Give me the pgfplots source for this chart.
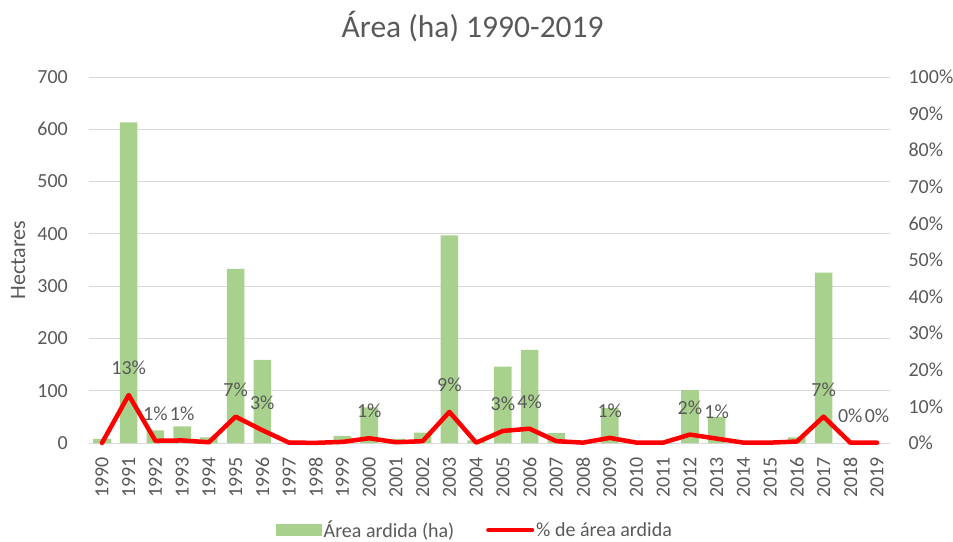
\documentclass[border=0pt]{standalone}
\usepackage{fontspec}
\setmainfont{Carlito}
\usepackage{pgfplots}
\usepackage{pgfplotstable}
\pgfplotsset{compat=1.18}
\definecolor{txt}{HTML}{595959}
\definecolor{grd}{HTML}{D9D9D9}
\definecolor{barg}{HTML}{A9D18E}
\definecolor{redl}{HTML}{FF0000}
\newcommand{\fs}{\fontsize{20}{24}\selectfont}

\pgfplotstableread{
x ha pct
0 8 0
1 613 13.1
2 24 0.6
3 32 0.7
4 11 0.2
5 333 7.2
6 159 3.5
7 0 0.1
8 0 0.05
9 13 0.3
10 68 1.3
11 8 0.2
12 20 0.5
13 397 8.5
14 5 0.1
15 146 3.3
16 178 3.9
17 19 0.5
18 0 0.1
19 67 1.4
20 0 0.1
21 0 0.1
22 101 2.3
23 50 1.2
24 0 0.1
25 0 0.1
26 11 0.4
27 326 7.2
28 0 0.1
29 0 0.1
}\datatable

\begin{document}
\begin{tikzpicture}
\begin{axis}[
  name=main,
  scale only axis, width=801.8pt, height=366pt,
  at={(0,0)}, anchor=south west,
  xmin=-0.5, xmax=29.5, ymin=0, ymax=700,
  axis line style={draw=none},
  major tick length=0pt,
  ytick={0,100,...,700},
  yticklabels={0,100,200,300,400,500,600,700},
  xtick={0,...,29},
  xticklabels={1990,1991,1992,1993,1994,1995,1996,1997,1998,1999,2000,2001,2002,2003,2004,2005,2006,2007,2008,2009,2010,2011,2012,2013,2014,2015,2016,2017,2018,2019},
  ymajorgrids, grid style={grd, line width=1pt},
  yticklabel style={font=\fs, text=txt, anchor=east, inner sep=0pt, xshift=-20.6pt},
  xticklabel style={font=\fs, text=txt, rotate=90, anchor=east, inner sep=0pt, xshift=-14pt},
  ylabel={Hectares},
  ylabel style={font=\fontsize{22}{26}\selectfont, text=txt, at={(axis description cs:-0.088,0.5)}, anchor=center},
  title={Área (ha) 1990-2019},
  title style={font=\fontsize{31.5}{36}\selectfont, text=txt, at={(axis description cs:0.479,1)}, anchor=base, yshift=33.7pt, inner sep=0pt},
]
\addplot[ybar, bar width=17.6pt, fill=barg, draw=none] table[x=x, y=ha] {\datatable};
\end{axis}
\begin{axis}[
  scale only axis, width=801.8pt, height=366pt,
  at={(0,0)}, anchor=south west,
  xmin=-0.5, xmax=29.5, ymin=0, ymax=100,
  axis line style={draw=none},
  major tick length=0pt,
  xtick=\empty,
  axis y line*=right,
  ytick={0,10,...,100},
  yticklabels={0\%,10\%,20\%,30\%,40\%,50\%,60\%,70\%,80\%,90\%,100\%},
  yticklabel style={font=\fs, text=txt, anchor=west, inner sep=0pt, xshift=18pt},
  clip=false,
  legend columns=2,
  legend style={draw=none, fill=none, font=\fs, text=txt,
    at={(axis description cs:0.482,-0.238)}, anchor=center,
    /tikz/every even column/.append style={column sep=30pt},
    inner sep=0pt},
  legend cell align=left,
]
\addlegendimage{legend image code/.code={\fill[barg] (0pt,-5.5pt) rectangle (45pt,5.5pt);}}
\addlegendentry{Área ardida (ha)}
\addplot[redl, line width=4.5pt, line join=round, line cap=round, mark=none,
  legend image code/.code={\draw[redl, line width=4pt, line cap=round] (2pt,0pt) -- (46pt,0pt);}] table[x=x, y=pct] {\datatable};
\addlegendentry{\% de área ardida}
\addplot[draw=none, mark=none, forget plot, nodes near coords, point meta=explicit symbolic,
  every node near coord/.style={anchor=center, yshift=27pt, font=\fs, text=txt, inner sep=0pt}]
  coordinates {
  (1,13.1) [13\%]
  (2,0.6) [1\%]
  (3,0.7) [1\%]
  (5,7.2) [7\%]
  (6,3.5) [3\%]
  (10,1.3) [1\%]
  (13,8.5) [9\%]
  (15,3.3) [3\%]
  (16,3.9) [4\%]
  (19,1.4) [1\%]
  (22,2.3) [2\%]
  (23,1.2) [1\%]
  (27,7.2) [7\%]
  (28,0.1) [0\%]
  (29,0.1) [0\%]
  };
\end{axis}
\pgfresetboundingbox
\path (-88.6pt,-98pt) rectangle (864.4pt,443pt);
\end{tikzpicture}
\end{document}
